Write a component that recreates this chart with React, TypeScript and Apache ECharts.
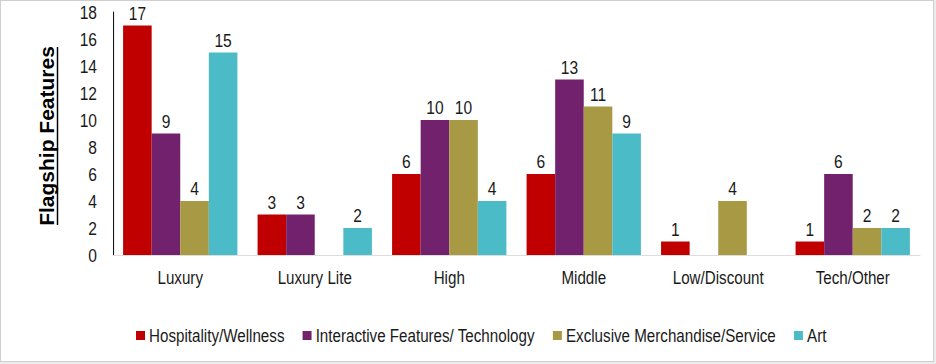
import React, { useEffect, useRef } from "react";
import * as echarts from "echarts";

const categories = ["Luxury", "Luxury Lite", "High", "Middle", "Low/Discount", "Tech/Other"];
const seriesNames = [
  "Hospitality/Wellness",
  "Interactive Features/ Technology",
  "Exclusive Merchandise/Service",
  "Art",
];
const hospitality = [17, 3, 6, 6, 1, 1];
const interactive = [9, 3, 10, 13, null, 6];
const merchandise = [4, null, 10, 11, 4, 2];
const art = [15, 2, 4, 9, null, 2];
const yTicks = { min: 0, max: 18, interval: 2 };
const yTitle = "Flagship Features";
const colors = ["#C00000", "#72226C", "#A89944", "#4BBCC7"];

const FONT = "'Liberation Sans', Arial, sans-serif";
// horizontal condensation of the whole drawing (the reference uses a narrow face)
const S = 0.82;
const px = (x: number) => x / S;

export default function App() {
  const ref = useRef<HTMLDivElement>(null);
  useEffect(() => {
    document.body.style.margin = "0";
    const chart = echarts.init(ref.current!, null, { renderer: "svg" });
    const data = [hospitality, interactive, merchandise, art];
    chart.setOption({
      animation: false,
      textStyle: { fontFamily: FONT },
      grid: { left: px(113), right: px(936 - 922), top: 12, bottom: 107, containLabel: false },
      legend: {
        left: px(136),
        top: 326,
        padding: 0,
        itemWidth: px(9),
        itemHeight: 9,
        itemGap: px(18),
        icon: "rect",
        textStyle: { fontFamily: FONT, fontSize: 18.5, color: "#1a1a1a" },
        data: seriesNames,
      },
      xAxis: {
        type: "category",
        data: categories,
        axisLine: { show: true, lineStyle: { color: "#d9d9d9", width: 1 } },
        axisTick: { show: false },
        axisLabel: { fontFamily: FONT, fontSize: 18.5, color: "#1a1a1a", margin: 13, interval: 0 },
      },
      yAxis: {
        type: "value",
        min: yTicks.min,
        max: yTicks.max,
        interval: yTicks.interval,
        axisLine: { show: true, lineStyle: { color: "#000", width: 1.2 } },
        axisTick: { show: false },
        splitLine: { show: false },
        axisLabel: { fontFamily: FONT, fontSize: 19, color: "#1a1a1a", margin: px(16) },
      },
      series: seriesNames.map((name, i) => ({
        name,
        type: "bar",
        data: data[i],
        barGap: "0%",
        barCategoryGap: "15%",
        itemStyle: { color: colors[i] },
        label: {
          show: true,
          position: "top",
          distance: 3,
          fontFamily: FONT,
          fontSize: 19,
          color: "#1a1a1a",
        },
      })),
      graphic: [
        {
          type: "text",
          x: px(46),
          y: 136,
          rotation: Math.PI / 2,
          scaleX: 1,
          scaleY: 1 / S,
          silent: true,
          style: {
            text: yTitle,
            fontFamily: FONT,
            fontSize: 21,
            fontWeight: "bold",
            fill: "#000",
            align: "center",
            verticalAlign: "middle",
          },
        },
        {
          type: "line",
          shape: { x1: px(57.5), y1: 47, x2: px(57.5), y2: 225 },
          style: { stroke: "#000", lineWidth: 1.8 },
          silent: true,
        },
      ],
    });
    return () => chart.dispose();
  }, []);
  return (
    <div style={{ position: "absolute", left: 0, top: 0, width: 936, height: 364, background: "#ececec" }}>
      <div
        style={{
          position: "absolute",
          left: 0,
          top: 0,
          width: 934,
          height: 362,
          boxSizing: "border-box",
          border: "1px solid #cfcfcf",
          background: "#ffffff",
          overflow: "hidden",
        }}
      >
        <div
          ref={ref}
          style={{
            position: "absolute",
            left: -1,
            top: -1,
            width: px(934),
            height: 362,
            transform: `scaleX(${S})`,
            transformOrigin: "0 0",
          }}
        />
      </div>
    </div>
  );
}
